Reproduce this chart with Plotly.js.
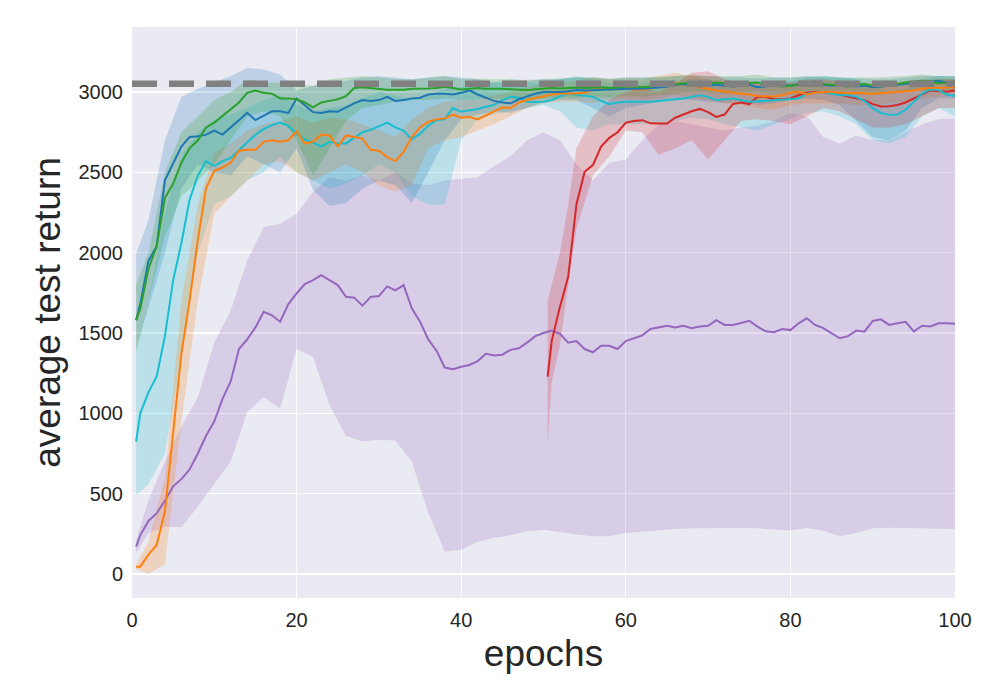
<!DOCTYPE html>
<html>
<head>
<meta charset="utf-8">
<script src="https://cdn.plot.ly/plotly-3.0.1.min.js"></script>
<style>html,body{margin:0;padding:0;background:#fff;}#chart{width:1000px;height:700px;}</style>
</head>
<body>
<div id="chart"></div>
<script>
// ---------- data ----------
const lineEpochs = [0.5,1,2,3,4,5,6,7,8,9,10,11,12,13,14,15,16,17,18,19,20,21,22,23,24,25,26,27,28,29,30,31,32,33,34,35,36,37,38,39,40,41,42,43,44,45,46,47,48,49,50,51,52,53,54,55,56,57,58,59,60,61,62,63,64,65,66,67,68,69,70,71,72,73,74,75,76,77,78,79,80,81,82,83,84,85,86,87,88,89,90,91,92,93,94,95,96,97,98,99,100];
const redEpochs = [50.5,51,52,53,54,55,56,57,58,59,60,61,62,63,64,65,66,67,68,69,70,71,72,73,74,75,76,77,78,79,80,81,82,83,84,85,86,87,88,89,90,91,92,93,94,95,96,97,98,99,100];

const blueReturn = [1580,1680,1950,2040,2450,2560,2660,2720,2725,2735,
2760,2735,2780,2830,2870,2825,2850,2880,2880,2870,
2960,2915,2875,2870,2880,2878,2905,2930,2950,2945,
2950,2970,2945,2950,2960,2965,2985,2990,2990,2985,
2995,3010,2985,2965,2945,2935,2930,2955,2975,2990,
3000,3000,3000,3005,3012,3010,3012,3015,3020,3022,
3020,3022,3020,3022,3028,3033,3045,3050,3040,3035,
3040,3045,3040,3035,3040,3045,3030,3035,3040,3045,
3040,3050,3060,3065,3045,3040,3045,3040,3035,3040,
3030,3035,3040,3045,3050,3060,3055,3065,3070,3060,
3055];
const greenReturn = [1580,1650,1900,2040,2340,2430,2560,2650,2700,2780,
2810,2850,2890,2935,2995,3010,2995,2990,2960,2960,
2955,2935,2905,2935,2945,2955,2975,3025,3030,3025,
3020,3015,3015,3015,3020,3020,3022,3025,3033,3025,
3016,3020,3025,3020,3022,3020,3018,3015,3012,3018,
3022,3025,3022,3025,3028,3025,3029,3030,3025,3030,
3033,3035,3030,3035,3040,3045,3050,3052,3060,3055,
3050,3060,3055,3050,3055,3058,3060,3045,3040,3035,
3040,3045,3050,3055,3050,3045,3040,3035,3045,3050,
3040,3035,3045,3050,3060,3065,3070,3065,3055,3060,
3065];
const cyanReturn = [823,1000,1130,1230,1480,1829,2060,2330,2480,2570,
2540,2570,2590,2640,2690,2735,2770,2794,2810,2790,
2740,2705,2685,2660,2690,2680,2680,2715,2750,2765,
2790,2810,2780,2760,2705,2740,2790,2825,2832,2900,
2877,2885,2895,2908,2920,2950,2970,2965,2940,2938,
2940,2950,2975,2990,2982,2975,2970,2945,2925,2935,
2940,2940,2938,2940,2945,2950,2955,2960,2970,2980,
2970,2950,2955,2960,2950,2939,2942,2945,2948,2950,
2955,2960,2990,2995,3001,2990,2981,2980,2970,2945,
2900,2870,2858,2860,2890,2940,2990,3016,3012,2985,
2975];
const orangeReturn = [45,45,120,180,390,880,1370,1705,2080,2400,
2510,2530,2560,2635,2640,2640,2690,2700,2690,2700,
2755,2680,2690,2735,2730,2660,2730,2720,2710,2640,
2635,2595,2570,2628,2720,2780,2815,2830,2836,2860,
2840,2845,2830,2855,2880,2905,2900,2935,2950,2962,
2970,2985,2991,2990,2991,2995,3015,3028,3018,3020,
3022,3018,3016,3022,3035,3043,3055,3050,3040,3030,
3020,3010,3005,2995,2990,2985,2975,2975,2972,2980,
2995,3001,2985,2995,3001,3000,2995,2993,2995,2992,
2990,2992,2995,3000,3005,3010,3020,3025,3028,3030,
3030];
const purpleReturn = [170,240,330,378,455,545,590,650,750,860,
950,1090,1200,1400,1460,1535,1632,1610,1570,1680,
1747,1805,1829,1860,1829,1798,1725,1720,1670,1725,
1730,1790,1765,1798,1653,1570,1460,1390,1285,1275,
1290,1301,1325,1370,1360,1365,1395,1405,1440,1480,
1500,1515,1495,1440,1450,1400,1380,1420,1420,1400,
1450,1467,1485,1525,1535,1545,1535,1545,1530,1540,
1545,1580,1550,1550,1562,1576,1540,1510,1505,1525,
1518,1560,1592,1550,1530,1500,1467,1480,1515,1508,
1575,1585,1550,1560,1570,1510,1545,1540,1560,1560,
1558];
const redReturn = [1228,1450,1664,1850,2300,2504,2545,2660,2715,2750,
2810,2820,2825,2805,2804,2804,2840,2862,2880,2895,
2875,2845,2860,2925,2935,2925,2970,2970,2955,2955,
2960,2980,2995,3000,3000,2991,2985,2972,2960,2950,
2925,2910,2912,2920,2935,2960,2990,3010,3005,3002,
3010];

// spread bands
const bandEpochs = [0.5,2,4,6,8,10,12,14,16,18,20,22,24,26,28,30,32,34,36,38,40,42,44,46,48,50,52,54,56,58,60,62,64,66,68,70,72,74,76,78,80,82,84,86,88,90,92,94,96,98,100];
const redBandEpochs = [50.5,51,52,53,54,56,58,60,62,64,66,68,70,72,74,76,78,80,82,84,86,88,90,92,94,96,98,100];

const purpleUpper = [210,460,700,920,1100,1440,1640,1950,2160,2180,2240,2380,2470,2450,2480,2450,2500,2430,2420,2450,2460,2470,2540,2600,2700,2750,2700,2550,2450,2560,2580,2700,2800,2820,2800,2780,2760,2780,2790,2820,2870,2850,2720,2680,2730,2700,2700,2750,2800,2830,2836];
const purpleLower = [130,253,294,290,420,560,700,1010,1100,1030,1400,1350,1050,860,825,835,830,700,380,140,150,200,225,240,265,275,260,245,234,234,255,265,272,280,284,286,286,286,284,276,270,286,268,234,255,284,288,286,284,282,280];
const blueUpper = [1995,2203,2700,2970,3020,3060,3100,3150,3140,3110,3010,3040,3050,3070,3090,3100,3090,3080,3090,3100,3090,3080,3060,3060,3070,3080,3080,3090,3090,3080,3090,3090,3090,3100,3100,3100,3090,3090,3085,3090,3090,3100,3090,3090,3085,3080,3080,3090,3100,3100,3100];
const blueLower = [1400,1650,2000,2400,2550,2500,2480,2600,2550,2500,2650,2390,2290,2310,2400,2450,2420,2310,2500,2700,2830,2860,2880,2870,2900,2940,2950,2950,2900,2850,2900,2920,2940,2960,2950,2940,2930,2940,2920,2930,2950,2960,2950,2920,2820,2720,2700,2760,2900,2960,2960];
const greenUpper = [1800,2000,2500,2750,2850,2950,3000,3080,3060,3060,3050,3040,3080,3090,3100,3090,3080,3080,3090,3100,3080,3085,3080,3080,3075,3080,3085,3090,3090,3085,3090,3090,3095,3100,3110,3100,3100,3100,3110,3090,3090,3095,3100,3090,3090,3090,3095,3100,3110,3100,3100];
const greenLower = [1380,1700,2100,2350,2450,2550,2700,2850,2880,2850,2700,2480,2650,2820,2900,2920,2940,2950,2950,2960,2950,2955,2960,2955,2950,2960,2965,2965,2970,2965,2975,2970,2980,2990,3000,2995,2990,2995,3000,2985,2985,2990,2990,2985,2980,2985,2990,3000,3010,3000,3010];
const cyanUpper = [1400,1700,2250,2600,2750,2830,2860,2900,2950,2980,2920,2880,2900,2920,2960,3000,2980,2950,2980,3020,3030,3040,3060,3080,3060,3050,3080,3100,3080,3060,3060,3060,3070,3070,3080,3080,3060,3060,3060,3060,3070,3090,3100,3090,3080,3040,3000,3020,3080,3100,3090];
const cyanLower = [490,560,750,1350,2000,2300,2350,2450,2500,2600,2500,2450,2400,2430,2480,2550,2500,2350,2300,2300,2700,2830,2860,2880,2900,2920,2880,2780,2760,2800,2800,2800,2800,2820,2840,2830,2800,2780,2760,2800,2830,2870,2880,2850,2800,2700,2680,2720,2850,2900,2850];
const orangeUpper = [60,200,600,1700,2300,2620,2680,2760,2800,2820,2850,2810,2840,2830,2800,2760,2720,2830,2900,2940,2950,2950,2980,3000,3030,3050,3060,3070,3090,3080,3080,3080,3100,3120,3100,3080,3070,3060,3050,3050,3060,3060,3070,3060,3060,3060,3060,3070,3080,3080,3080];
const orangeLower = [30,0,60,950,1700,2240,2350,2450,2550,2570,2500,2450,2500,2550,2500,2420,2380,2420,2650,2700,2720,2760,2800,2850,2900,2930,2940,2940,2930,2950,2960,2950,2960,2980,2960,2950,2930,2920,2900,2890,2920,2930,2930,2930,2920,2920,2930,2940,2960,2970,2980];
const redUpper = [1700,1800,2000,2300,2650,2850,2950,3000,3020,3000,3050,3120,3130,3080,3060,3060,3060,3060,3080,3080,3070,3060,3040,3030,3050,3070,3080,3080];
const redLower = [813,1200,1420,1800,2150,2480,2600,2760,2750,2610,2650,2700,2580,2700,2820,2830,2820,2800,2850,2900,2880,2830,2780,2780,2800,2850,2900,2900];

const referenceReturn = 3052;
const xTicks = [0,20,40,60,80,100];
const yTicks = [0,500,1000,1500,2000,2500,3000];

// ---------- styling ----------
const colors = {blue:'#1f77b4', orange:'#ff7f0e', green:'#2ca02c', red:'#d62728', purple:'#9467bd', cyan:'#17becf'};
function rgba(hex, a){
  const n = parseInt(hex.slice(1),16);
  return 'rgba(' + ((n>>16)&255) + ',' + ((n>>8)&255) + ',' + (n&255) + ',' + a + ')';
}
function band(xs, up, lo, color){
  return {
    type:'scatter', mode:'lines', hoverinfo:'skip', showlegend:false,
    x: xs.concat(xs.slice().reverse()),
    y: up.concat(lo.slice().reverse()),
    fill:'toself', fillcolor: rgba(color, 0.22), line:{width:0, color:'rgba(0,0,0,0)'}
  };
}
function line(xs, ys, color){
  return {type:'scatter', mode:'lines', x:xs, y:ys, showlegend:false,
          line:{color:color, width:2}};
}

const traces = [
  band(bandEpochs, purpleUpper, purpleLower, colors.purple),
  band(bandEpochs, cyanUpper, cyanLower, colors.cyan),
  band(bandEpochs, orangeUpper, orangeLower, colors.orange),
  band(bandEpochs, blueUpper, blueLower, colors.blue),
  band(bandEpochs, greenUpper, greenLower, colors.green),
  band(redBandEpochs, redUpper, redLower, colors.red),
  line(lineEpochs, purpleReturn, colors.purple),
  line(redEpochs, redReturn, colors.red),
  line(lineEpochs, cyanReturn, colors.cyan),
  line(lineEpochs, orangeReturn, colors.orange),
  line(lineEpochs, blueReturn, colors.blue),
  line(lineEpochs, greenReturn, colors.green),
  {type:'scatter', mode:'lines', x:[0,100], y:[referenceReturn, referenceReturn], showlegend:false,
   line:{color:'#808080', width:6.5, dash:'25px,12px'}}
];

const axisFont = {family:'Liberation Sans, Arial, sans-serif', size:20, color:'#262626'};
const layout = {
  width:1000, height:700,
  margin:{l:132, r:45, t:27, b:102, pad:0},
  paper_bgcolor:'#ffffff', plot_bgcolor:'#EAEAF2',
  showlegend:false,
  font:{family:'Liberation Sans, Arial, sans-serif', color:'#262626'},
  xaxis:{
    range:[0,100], tickvals:xTicks, ticktext:xTicks.map(String),
    showgrid:true, gridcolor:'#ffffff', gridwidth:1.3, zeroline:false,
    showline:false, ticks:'', tickfont:axisFont, ticklabelstandoff:8,
    title:{text:'epochs', font:{family:'Liberation Sans, Arial, sans-serif', size:37, color:'#262626'}, standoff:10},
    automargin:false
  },
  yaxis:{
    range:[-150,3405], tickvals:yTicks, ticktext:yTicks.map(String),
    showgrid:true, gridcolor:'#ffffff', gridwidth:1.3, zeroline:false,
    showline:false, ticks:'', tickfont:axisFont, ticklabelstandoff:8,
    title:{text:'average test return', font:{family:'Liberation Sans, Arial, sans-serif', size:37, color:'#262626'}, standoff:6},
    automargin:false
  }
};

Plotly.newPlot('chart', traces, layout, {staticPlot:true, displayModeBar:false});
</script>
</body>
</html>
